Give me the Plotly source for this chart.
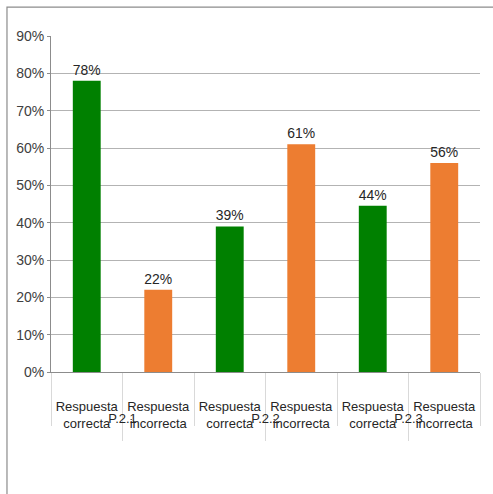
import plotly.graph_objects as go

groups = ["P.2.1", "P.2.1", "P.2.2", "P.2.2", "P.2.3", "P.2.3"]
subcats = ["Respuesta<br>correcta", "Respuesta<br>incorrecta"] * 3
values = [78, 22, 39, 61, 44.5, 56]
labels = ["78%", "22%", "39%", "61%", "44%", "56%"]
colors = ["#008000", "#ED7D31"] * 3
yticks = [0, 10, 20, 30, 40, 50, 60, 70, 80, 90]
yticklabels = [f"{v}%" for v in yticks]

FONT = "Liberation Sans, Arial, sans-serif"

fig = go.Figure(go.Bar(
    x=[groups, subcats],
    y=values,
    text=labels,
    textposition="outside",
    textfont=dict(size=14, color="#262626", family=FONT),
    marker=dict(color=colors, line=dict(width=0)),
    width=0.39,
    cliponaxis=False,
))

fig.update_layout(
    width=493, height=494,
    margin=dict(l=51, r=13, t=36, b=122, autoexpand=False),
    paper_bgcolor="white", plot_bgcolor="white",
    showlegend=False,
    font=dict(family=FONT, size=13, color="#404040"),
    shapes=[dict(type="rect", xref="paper", yref="paper",
                 x0=-0.1026, x1=1.2, y0=-0.6, y1=1.086,
                 line=dict(color="#8c8c8c", width=1.2), layer="below")],
)
fig.update_yaxes(
    range=[0, 90], tickvals=yticks, ticktext=yticklabels,
    showgrid=True, gridcolor="#b3b3b3", gridwidth=1,
    showline=True, linecolor="#8c8c8c", linewidth=1,
    ticks="outside", ticklen=3, tickcolor="#8c8c8c",
    tickfont=dict(size=14, color="#404040", family=FONT),
    zeroline=False, automargin=False,
)
fig.update_xaxes(
    type="multicategory", tickangle=0, automargin=False,
    showline=True, linecolor="#8c8c8c", linewidth=1,
    ticks="outside", ticklen=68, tickcolor="#d9d9d9",
    ticklabelstandoff=22,
    showdividers=True, dividercolor="#d9d9d9", dividerwidth=1,
    tickfont=dict(size=13, color="#262626", family=FONT),
)

fig.write_html("out.html", config={"displayModeBar": False},
               post_script="document.body.style.margin='0';")
